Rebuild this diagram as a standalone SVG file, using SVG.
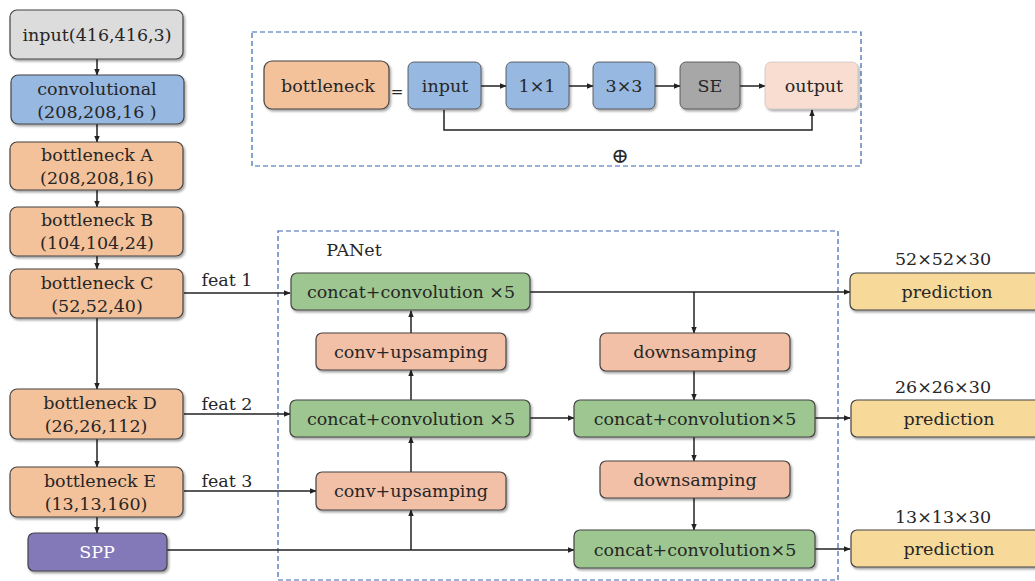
<svg xmlns="http://www.w3.org/2000/svg" width="1035" height="581" viewBox="0 0 1035 581">
<defs>
<filter id="sh" x="-10%" y="-20%" width="130%" height="150%">
<feDropShadow dx="1.5" dy="2" stdDeviation="1.2" flood-color="#000" flood-opacity="0.35"/>
</filter>
<marker id="ah" viewBox="0 0 10 10" refX="9" refY="5" markerWidth="7" markerHeight="7" markerUnits="userSpaceOnUse" orient="auto">
<path d="M0,1 L10,5 L0,9 Z" fill="#222"/>
</marker>
<style>
.b{stroke:#444;stroke-width:1.2;filter:url(#sh)}
.t{font-family:"DejaVu Serif","Liberation Serif",serif;font-size:17.5px;fill:#262626;text-anchor:middle}
.c{fill:none;stroke:#222;stroke-width:1.5}
.a{marker-end:url(#ah)}
.d{fill:none;stroke:#3a64b0;stroke-width:1.2;stroke-dasharray:5,3}
.gray{fill:#dcdcdc}.blue{fill:#97b8e0}.peach{fill:#f3c19a}.purple{fill:#8479b8}.green{fill:#9dc690}.salmon{fill:#f2c0a6}.yellow{fill:#f7d999}.se{fill:#a8a7a8}.out{fill:#f9ddd0}
</style>
</defs>
<rect width="1035" height="581" fill="#fff"/>
<rect class="d" x="252" y="32" width="609" height="134"/>
<rect class="d" x="278" y="231" width="560" height="349"/>
<text class="t" x="354" y="256">PANet</text>
<g id="connectors">
<line class="c a" x1="97" y1="59" x2="97" y2="75"/>
<line class="c a" x1="97" y1="124" x2="97" y2="142"/>
<line class="c a" x1="97" y1="190" x2="97" y2="207"/>
<line class="c a" x1="97" y1="256" x2="97" y2="269"/>
<line class="c a" x1="97" y1="318" x2="97" y2="389"/>
<line class="c a" x1="97" y1="439" x2="97" y2="467"/>
<line class="c a" x1="97" y1="517" x2="97" y2="533"/>
<line class="c a" x1="184" y1="293" x2="290" y2="293"/>
<line class="c a" x1="184" y1="414" x2="290" y2="414"/>
<line class="c a" x1="184" y1="491" x2="316" y2="491"/>
<line class="c a" x1="167" y1="550" x2="574" y2="550"/>
<line class="c a" x1="411" y1="550" x2="411" y2="510"/>
<line class="c a" x1="411" y1="472" x2="411" y2="437"/>
<line class="c a" x1="411" y1="400" x2="411" y2="370"/>
<line class="c a" x1="411" y1="333" x2="411" y2="311"/>
<line class="c a" x1="530" y1="292" x2="850" y2="292"/>
<line class="c a" x1="694" y1="292" x2="694" y2="333"/>
<line class="c a" x1="694" y1="371" x2="694" y2="400"/>
<line class="c a" x1="530" y1="418" x2="574" y2="418"/>
<line class="c a" x1="815" y1="418" x2="850" y2="418"/>
<line class="c a" x1="694" y1="437" x2="694" y2="461"/>
<line class="c a" x1="694" y1="498" x2="694" y2="530"/>
<line class="c a" x1="815" y1="549" x2="850" y2="549"/>
<line class="c a" x1="481" y1="86" x2="506" y2="86"/>
<line class="c a" x1="569" y1="86" x2="593" y2="86"/>
<line class="c a" x1="655" y1="86" x2="680" y2="86"/>
<line class="c a" x1="740" y1="86" x2="765" y2="86"/>
<polyline class="c a" points="444,110 444,130 812,130 812,110"/>
</g>
<text class="t" x="227" y="286">feat 1</text>
<text class="t" x="227" y="410">feat 2</text>
<text class="t" x="227" y="487">feat 3</text>
<text class="t" x="397" y="97" style="font-size:15px">=</text>
<text class="t" x="620" y="163" style="font-size:21px">⊕</text>
<text class="t" x="943" y="265">52×52×30</text>
<text class="t" x="943" y="393">26×26×30</text>
<text class="t" x="943" y="523">13×13×30</text>
<g id="n_input"><rect class="b gray" x="10" y="10" width="173" height="49" rx="7"/><text class="t" x="97" y="41">input(416,416,3)</text></g>
<g id="n_conv"><rect class="b blue" x="11" y="75" width="173" height="49" rx="7"/><text class="t" x="97" y="95">convolutional</text><text class="t" x="97" y="118">(208,208,16 )</text></g>
<g id="n_bA"><rect class="b peach" x="10" y="142" width="173" height="48" rx="7"/><text class="t" x="97" y="161">bottleneck A</text><text class="t" x="97" y="184">(208,208,16)</text></g>
<g id="n_bB"><rect class="b peach" x="10" y="207" width="173" height="49" rx="7"/><text class="t" x="97" y="226">bottleneck B</text><text class="t" x="97" y="249">(104,104,24)</text></g>
<g id="n_bC"><rect class="b peach" x="10" y="269" width="173" height="49" rx="7"/><text class="t" x="97" y="289">bottleneck C</text><text class="t" x="97" y="312">(52,52,40)</text></g>
<g id="n_bD"><rect class="b peach" x="10" y="389" width="173" height="50" rx="7"/><text class="t" x="100" y="409">bottleneck D</text><text class="t" x="96" y="432">(26,26,112)</text></g>
<g id="n_bE"><rect class="b peach" x="10" y="467" width="173" height="50" rx="7"/><text class="t" x="100" y="487">bottleneck E</text><text class="t" x="96" y="510">(13,13,160)</text></g>
<g id="n_spp"><rect class="b purple" x="28" y="533" width="139" height="38" rx="6"/><text class="t" x="97" y="558" style="fill:#fff">SPP</text></g>
<g id="n_bneck"><rect class="b peach" x="264" y="61" width="125" height="48" rx="8"/><text class="t" x="328" y="92">bottleneck</text></g>
<g id="n_in"><rect class="b blue" x="408" y="62" width="73" height="47" rx="6" style="stroke-width:0.8"/><text class="t" x="445" y="92">input</text></g>
<g id="n_11"><rect class="b blue" x="506" y="62" width="63" height="47" rx="6" style="stroke-width:0.8"/><text class="t" x="537" y="92">1×1</text></g>
<g id="n_33"><rect class="b blue" x="593" y="62" width="62" height="47" rx="6" style="stroke-width:0.8"/><text class="t" x="624" y="92">3×3</text></g>
<g id="n_se"><rect class="b se" x="680" y="62" width="60" height="47" rx="6" style="stroke-width:0.8"/><text class="t" x="710" y="92">SE</text></g>
<g id="n_out"><rect class="b out" x="765" y="62" width="93" height="47" rx="6" style="stroke-width:0.6;stroke:#bbb"/><text class="t" x="814" y="92">output</text></g>
<g id="n_cc1"><rect class="b green" x="291" y="273" width="239" height="37" rx="6"/><text class="t" x="411" y="298">concat+convolution ×5</text></g>
<g id="n_up1"><rect class="b salmon" x="316" y="333" width="190" height="37" rx="6"/><text class="t" x="411" y="358">conv+upsamping</text></g>
<g id="n_cc2"><rect class="b green" x="290" y="400" width="240" height="37" rx="6"/><text class="t" x="411" y="425">concat+convolution ×5</text></g>
<g id="n_up2"><rect class="b salmon" x="316" y="472" width="190" height="38" rx="6"/><text class="t" x="411" y="497">conv+upsamping</text></g>
<g id="n_dn1"><rect class="b salmon" x="600" y="333" width="190" height="38" rx="6"/><text class="t" x="695" y="358">downsamping</text></g>
<g id="n_cc3"><rect class="b green" x="574" y="400" width="241" height="37" rx="6"/><text class="t" x="695" y="425">concat+convolution×5</text></g>
<g id="n_dn2"><rect class="b salmon" x="600" y="461" width="190" height="37" rx="6"/><text class="t" x="695" y="486">downsamping</text></g>
<g id="n_cc4"><rect class="b green" x="574" y="530" width="241" height="38" rx="6"/><text class="t" x="695" y="556">concat+convolution×5</text></g>
<g id="n_p1"><rect class="b yellow" x="850" y="273" width="195" height="37" rx="6"/><text class="t" x="947" y="298">prediction</text></g>
<g id="n_p2"><rect class="b yellow" x="851" y="400" width="194" height="37" rx="6"/><text class="t" x="949" y="425">prediction</text></g>
<g id="n_p3"><rect class="b yellow" x="851" y="530" width="194" height="37" rx="6"/><text class="t" x="949" y="555">prediction</text></g>
</svg>
